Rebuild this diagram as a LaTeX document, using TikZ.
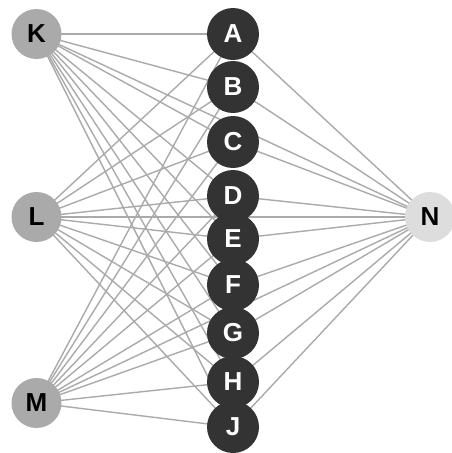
\documentclass[tikz,border=0pt]{standalone}
\usepackage{fontspec}
\setmainfont{Liberation Sans}
\begin{document}
\begin{tikzpicture}[x=1pt,y=-1pt,
  lbl/.style={font=\bfseries\fontsize{26}{26}\selectfont},
  outer/.style={circle,minimum size=50pt,inner sep=0pt,fill=outergray,text=black,lbl},
  mid/.style={circle,minimum size=52pt,inner sep=0pt,fill=midgray,text=white,lbl},
  sink/.style={circle,minimum size=50pt,inner sep=0pt,fill=sinkgray,text=black,lbl},
  edge/.style={draw=edgegray,line width=1.4pt}]
\definecolor{outergray}{HTML}{AAAAAA}
\definecolor{midgray}{HTML}{333333}
\definecolor{sinkgray}{HTML}{DDDDDD}
\definecolor{edgegray}{HTML}{AAAAAA}
\useasboundingbox (0,0) rectangle (451,453);
\fill[white] (0,0) rectangle (451,453);
% node coordinates
\coordinate (cK) at (36.5,34);
\coordinate (cL) at (36.5,217);
\coordinate (cM) at (36.5,403);
\coordinate (cN) at (430,217);
\coordinate (cA) at (233,34);
\coordinate (cB) at (233,87);
\coordinate (cC) at (233,142);
\coordinate (cD) at (233,196);
\coordinate (cE) at (233,239);
\coordinate (cF) at (233,285);
\coordinate (cG) at (233,333);
\coordinate (cH) at (233,382);
\coordinate (cJ) at (233,427);
% edges
\foreach \s in {K,L,M}{
  \foreach \t in {A,B,C,D,E,F,G,H,J,N}{
    \draw[edge] (c\s) -- (c\t);
  }
}
\foreach \t in {A,B,C,D,E,F,G,H,J}{
  \draw[edge] (c\t) -- (cN);
}
% nodes
\node[outer] (K) at (cK) {K};
\node[outer] (L) at (cL) {L};
\node[outer] (M) at (cM) {M};
\node[sink] (N) at (cN) {N};
\foreach \t in {A,B,C,D,E,F,G,H,J}{
  \node[mid] (\t) at (c\t) {\t};
}
\end{tikzpicture}
\end{document}
